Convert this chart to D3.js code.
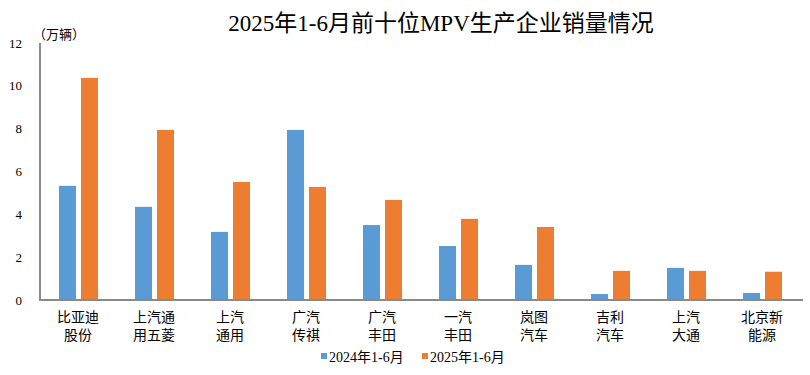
<!DOCTYPE html>
<html>
<head>
<meta charset="utf-8">
<script src="https://cdn.jsdelivr.net/npm/d3@7"></script>
<style>
  body { margin: 0; background: #fff; }
  svg text { font-family: "Liberation Serif", "Noto Sans CJK SC", serif; fill: #000; }
</style>
</head>
<body>
<div id="chart"></div>
<script>
// company names, two lines each
const companies = [
    ['比亚迪', '股份'], ['上汽通', '用五菱'], ['上汽', '通用'], ['广汽', '传祺'], ['广汽', '丰田'],
    ['一汽', '丰田'], ['岚图', '汽车'], ['吉利', '汽车'], ['上汽', '大通'], ['北京新', '能源']
];
const seriesNames = ['2024年1-6月', '2025年1-6月'];
const sales2024 = [5.33, 4.35, 3.18, 7.94, 3.50, 2.52, 1.64, 0.28, 1.50, 0.33];
const sales2025 = [10.37, 7.94, 5.51, 5.28, 4.67, 3.79, 3.41, 1.36, 1.36, 1.32];
const yTicks = [0, 2, 4, 6, 8, 10, 12];
const colors = ['#5B9BD5', '#ED7D31'];

const width = 810, height = 375;
const svg = d3.select('#chart').append('svg')
    .attr('width', width)
    .attr('height', height);

const x = d3.scaleBand()
    .domain(d3.range(companies.length))
    .range([40, 800])
    .paddingInner(0);

// position of the two bars inside a category, relative to its centre
const xInner = d3.scaleBand()
    .domain(seriesNames)
    .range([-19, 20])
    .paddingInner(0.227);

const y = d3.scaleLinear()
    .domain([0, 12])
    .range([300, 43]);

// title
svg.append('text')
    .attr('x', 441)
    .attr('y', 31)
    .attr('text-anchor', 'middle')
    .style('font-size', '23px')
    .text('2025年1-6月前十位MPV生产企业销量情况');

// unit
svg.append('text')
    .attr('x', 33)
    .attr('y', 39)
    .style('font-size', '13px')
    .text('（万辆）');

// y tick labels
svg.selectAll('.ytick')
    .data(yTicks)
    .enter()
    .append('text')
    .attr('class', 'ytick')
    .attr('x', 22)
    .attr('y', d => y(d))
    .attr('dy', '0.35em')
    .attr('text-anchor', 'end')
    .style('font-size', '13px')
    .text(d => d);

// bars
const series = [sales2024, sales2025];
series.forEach((values, si) => {
    svg.selectAll('.bar-' + si)
        .data(values)
        .enter()
        .append('rect')
        .attr('class', 'bar-' + si)
        .attr('x', (d, i) => x(i) + x.bandwidth() / 2 + xInner(seriesNames[si]))
        .attr('y', d => y(d))
        .attr('width', xInner.bandwidth())
        .attr('height', d => y(0) - y(d))
        .attr('fill', colors[si]);
});

// axes lines
svg.append('line')
    .attr('x1', 40).attr('x2', 40)
    .attr('y1', y(12)).attr('y2', y(0) + 1)
    .attr('stroke', '#898989')
    .attr('stroke-width', 2);

svg.append('line')
    .attr('x1', 39).attr('x2', 803)
    .attr('y1', y(0)).attr('y2', y(0))
    .attr('stroke', '#898989')
    .attr('stroke-width', 2);

// category labels
const labels = svg.selectAll('.xlabel')
    .data(companies)
    .enter()
    .append('text')
    .attr('class', 'xlabel')
    .attr('text-anchor', 'middle')
    .style('font-size', '14px');

labels.each(function(d, i) {
    const t = d3.select(this);
    d.forEach((line, li) => {
        t.append('tspan')
            .attr('x', x(i) + x.bandwidth() / 2)
            .attr('y', 322 + li * 18)
            .text(line);
    });
});

// legend
const legendX = [321, 422];
seriesNames.forEach((name, si) => {
    svg.append('rect')
        .attr('x', legendX[si])
        .attr('y', 353)
        .attr('width', 6)
        .attr('height', 6)
        .attr('fill', colors[si]);
    svg.append('text')
        .attr('x', legendX[si] + 8)
        .attr('y', 362)
        .style('font-size', '14px')
        .text(name);
});
</script>
</body>
</html>
